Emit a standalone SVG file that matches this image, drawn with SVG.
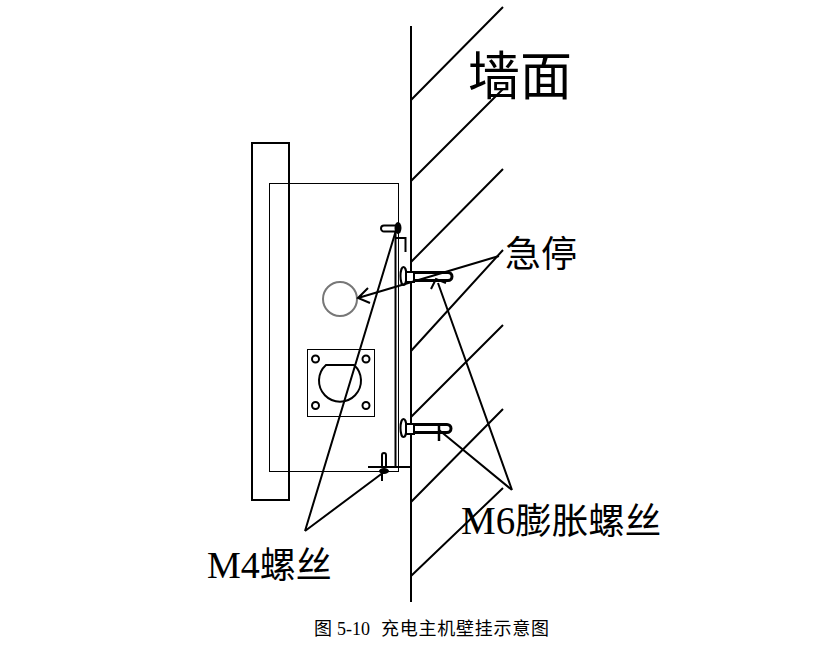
<svg xmlns="http://www.w3.org/2000/svg" width="825" height="646" viewBox="0 0 825 646">
<style>
.l{fill:none;stroke:#000;stroke-width:2}
.b{fill:none;stroke:#000;stroke-width:3}
.t{fill:none;stroke:#000;stroke-width:1}
.h{fill:#fff;stroke:#000;stroke-width:2}
.s{fill:none;stroke:#000;stroke-width:2}
.lb{font-family:"Liberation Serif","Noto Sans CJK SC",serif;fill:#000}
.c{font-family:"Liberation Serif","Noto Sans CJK SC",serif;font-size:18px;fill:#000}
.cjk{font-family:"Noto Sans CJK SC","Liberation Sans",sans-serif}
</style>
<rect width="825" height="646" fill="#fff"/>
<g id="wall">
<path class="l" d="M411 26V602"/>
<path class="l" d="M411 100L503 7M411 181L503 89M411 262L503 169M411 351L503 250M411 417L503 325M411 502L503 409M411 576L503 488"/>
<text class="cjk" x="468" y="95" font-size="52" fill="#000">墙面</text>
</g>
<g id="charger">
<rect class="l" x="252" y="143" width="37" height="357"/>
<rect class="t" x="269.500" y="183.500" width="129" height="288"/>
<path class="l" d="M395.500 232V467H411"/>
<path class="l" d="M395 238H405.500V252"/>
</g>
<g id="estop">
<circle cx="340" cy="299" r="17" fill="#fff" stroke="#777" stroke-width="2"/>
</g>
<g id="socket">
<rect class="t" x="307.500" y="349.500" width="67" height="67"/>
<circle cx="315.500" cy="359" r="3.500" class="s"/>
<circle cx="366" cy="359" r="3.500" class="s"/>
<circle cx="315.500" cy="405.500" r="3.500" class="s"/>
<circle cx="366" cy="405.500" r="3.500" class="s"/>
<path d="M326 365H354A21 21 0 1 1 326 365Z" class="s"/>
</g>
<g id="screw-m4-top">
<path d="M396 225.500H384A2.800 2.800 0 0 0 384 231.500H396" class="l"/>
<ellipse cx="398" cy="228" rx="3.500" ry="6" fill="#000"/>
</g>
<g id="screw-m4-bottom">
<path class="l" d="M368 467H398"/>
<path class="l" d="M382 467V455A2 2 0 0 1 386 455V467"/>
<ellipse cx="384" cy="471" rx="5" ry="3" fill="#000"/>
<path class="l" d="M382 472V481"/>
</g>
<g id="bolt-top">
<ellipse cx="403.500" cy="276" rx="3" ry="9" class="h"/>
<rect x="406" y="272" width="8" height="10" class="h"/>
<path d="M414 272.500H448A4 4 0 0 1 448 280.500H414" class="b"/>
</g>
<g id="bolt-bottom">
<ellipse cx="403.500" cy="428" rx="3" ry="9" class="h"/>
<rect x="406" y="424" width="8" height="10" class="h"/>
<path d="M414 424.500H447A4 4 0 0 1 447 432.500H414" class="b"/>
<path d="M439 423V441" stroke="#000" stroke-width="2.500"/>
</g>
<g id="connectors">
<path class="l" d="M305 531L397 227M305 531L384 472"/>
<path class="l" d="M512 490L438 283M512 490L439 430"/>
<path class="l" d="M499 256L358 298M368 288L358 298L370 303"/>
<path class="l" d="M431 289L436 279L446 283"/>
</g>
<g id="labels">
<text class="cjk" x="505" y="267" font-size="36" fill="#000">急停</text>
<text class="lb" x="461" y="534" font-size="39">M6<tspan class="cjk" font-size="36.500">膨胀螺丝</tspan></text>
<text class="lb" x="207" y="578" font-size="38">M4<tspan class="cjk" font-size="36">螺丝</tspan></text>
<text class="c"><tspan x="314" y="635">图</tspan><tspan x="337" y="635">5-10</tspan><tspan x="381" y="635" textLength="168">充电主机壁挂示意图</tspan></text>
</g>
</svg>
